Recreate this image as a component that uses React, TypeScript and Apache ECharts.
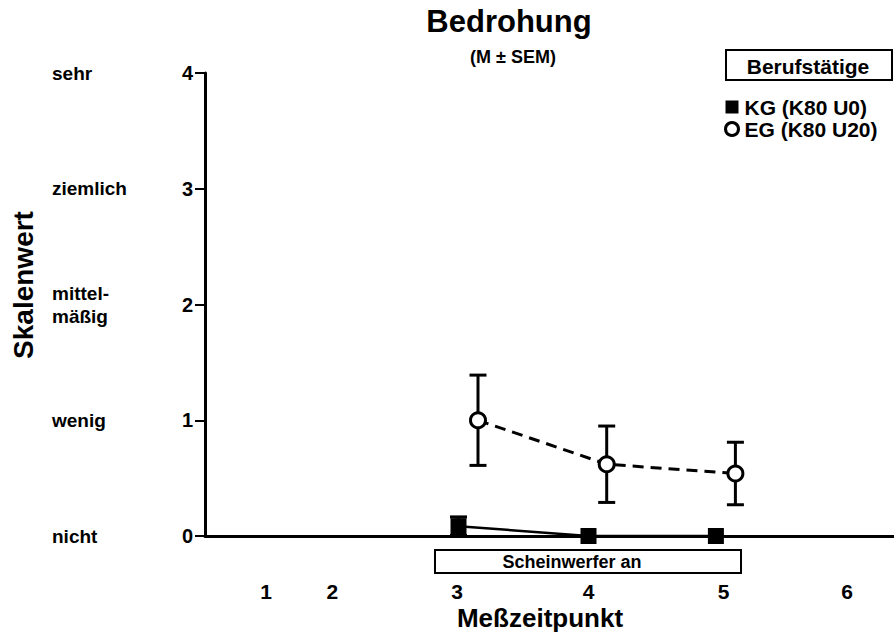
import React, { useEffect, useRef } from "react";
import * as echarts from "echarts";

// ---- data ----
const X_TICK_POS = [1.53, 2.04, 3.0, 4.01, 5.05, 6.0];
const X_TICK_LABELS = ["1", "2", "3", "4", "5", "6"];
const Y_WORDS = ["nicht", "wenig", "mittel-\nmäßig", "ziemlich", "sehr"];

const KG_X = [3.01, 4.01, 4.99];
const KG_MEAN = [0.085, 0, 0];
const KG_SEM = [0.08, 0, 0];

const EG_X = [3.16, 4.15, 5.14];
const EG_MEAN = [1.0, 0.62, 0.54];
const EG_SEM = [0.39, 0.33, 0.27];

const X_MIN = 1.06;
const X_MAX = 6.36;

const FONT = "'Liberation Sans', Arial, Helvetica, sans-serif";

function errorBars(xs: number[], means: number[], sems: number[]) {
  return xs
    .map((x, i) => [x, means[i], sems[i]])
    .filter((d) => d[2] > 0);
}

function renderErr(params: any, api: any) {
  const x = api.value(0);
  const m = api.value(1);
  const s = api.value(2);
  const top = api.coord([x, m + s]);
  const bot = api.coord([x, m - s]);
  const hw = 8.5;
  const st = { stroke: "#000", lineWidth: 3 };
  return {
    type: "group",
    children: [
      { type: "line", shape: { x1: top[0], y1: top[1], x2: bot[0], y2: bot[1] }, style: st },
      { type: "line", shape: { x1: top[0] - hw, y1: top[1], x2: top[0] + hw, y2: top[1] }, style: st },
      { type: "line", shape: { x1: bot[0] - hw, y1: bot[1], x2: bot[0] + hw, y2: bot[1] }, style: st },
    ],
  };
}

export default function App() {
  const ref = useRef<HTMLDivElement>(null);
  useEffect(() => {
    if (!ref.current) return;
    const chart = echarts.init(ref.current, undefined, { renderer: "svg" });
    const bold = { fontFamily: FONT, fontWeight: "bold" as const, color: "#000" };
    const txt = (text: string, x: number, y: number, fontSize: number, extra: any = {}) => ({
      type: "text",
      x,
      y,
      ...extra,
      style: { text, fontSize, fontFamily: FONT, fontWeight: "bold", fill: "#000", align: "center", verticalAlign: "middle" },
    });
    chart.setOption({
      animation: false,
      backgroundColor: "#fff",
      grid: { left: 205, right: 0, top: 73, bottom: 99, containLabel: false },
      xAxis: {
        type: "value",
        min: X_MIN,
        max: X_MAX,
        axisLine: { show: true, onZero: false, lineStyle: { color: "#000", width: 3 } },
        axisTick: { show: false },
        splitLine: { show: false },
        axisLabel: {
          customValues: X_TICK_POS,
          formatter: (v: number) => {
            const i = X_TICK_POS.findIndex((p) => Math.abs(p - v) < 1e-6);
            return i >= 0 ? X_TICK_LABELS[i] : "";
          },
          margin: 45,
          fontSize: 21,
          ...bold,
        },
      },
      yAxis: [
        {
          type: "value",
          min: 0,
          max: 4,
          interval: 1,
          position: "left",
          axisLine: { show: true, lineStyle: { color: "#000", width: 3 } },
          axisTick: { show: true, length: 10, lineStyle: { color: "#000", width: 2 } },
          splitLine: { show: false },
          axisLabel: { margin: 12, fontSize: 20, ...bold },
        },
        {
          type: "value",
          min: 0,
          max: 4,
          interval: 1,
          position: "left",
          axisLine: { show: false },
          axisTick: { show: false },
          splitLine: { show: false },
          axisLabel: {
            margin: 153,
            align: "left",
            fontSize: 19,
            lineHeight: 23,
            formatter: (v: number) => Y_WORDS[Math.round(v)] ?? "",
            ...bold,
          },
        },
      ],
      legend: {
        orient: "vertical",
        left: 724,
        top: 96,
        itemWidth: 13,
        itemHeight: 13,
        itemGap: 0,
        padding: 0,
        textStyle: { fontSize: 21, lineHeight: 22, ...bold, padding: [0, 0, 0, 1] },
        data: [
          { name: "KG (K80 U0)", icon: "rect", itemStyle: { color: "#000", borderWidth: 0 } },
          { name: "EG (K80 U20)", icon: "circle", itemStyle: { color: "#fff", borderColor: "#000", borderWidth: 3 } },
        ],
      },
      series: [
        {
          type: "custom",
          name: "KG err",
          renderItem: renderErr,
          data: errorBars(KG_X, KG_MEAN, KG_SEM),
          z: 2,
          silent: true,
        },
        {
          type: "custom",
          name: "EG err",
          renderItem: renderErr,
          data: errorBars(EG_X, EG_MEAN, EG_SEM),
          z: 2,
          silent: true,
        },
        {
          type: "line",
          name: "KG (K80 U0)",
          data: KG_X.map((x, i) => [x, KG_MEAN[i]]),
          symbol: "rect",
          symbolSize: 16,
          lineStyle: { color: "#000", width: 2.5, type: "solid" },
          itemStyle: { color: "#000" },
          z: 4,
        },
        {
          type: "line",
          name: "EG (K80 U20)",
          data: EG_X.map((x, i) => [x, EG_MEAN[i]]),
          symbol: "circle",
          symbolSize: 15,
          lineStyle: { color: "#000", width: 3, type: [11, 7] },
          itemStyle: { color: "#fff", borderColor: "#000", borderWidth: 3 },
          z: 4,
        },
      ],
      graphic: [
        txt("Bedrohung", 509, 21, 31),
        txt("(M ± SEM)", 513, 57, 18),
        {
          type: "rect",
          shape: { x: 726, y: 50, width: 166, height: 30 },
          style: { fill: "#fff", stroke: "#000", lineWidth: 2 },
        },
        txt("Berufstätige", 808, 66, 21),
        {
          type: "rect",
          shape: { x: 435, y: 550, width: 306, height: 23 },
          style: { fill: "#fff", stroke: "#000", lineWidth: 2 },
        },
        txt("Scheinwerfer an", 572, 562, 18),
        txt("Meßzeitpunkt", 540, 618, 26),
        txt("Skalenwert", 23, 285, 28, { rotation: Math.PI / 2 }),
      ],
    });
    return () => chart.dispose();
  }, []);
  return (
    <div
      ref={ref}
      style={{ position: "fixed", left: 0, top: 0, width: 894, height: 635, background: "#fff" }}
    />
  );
}
